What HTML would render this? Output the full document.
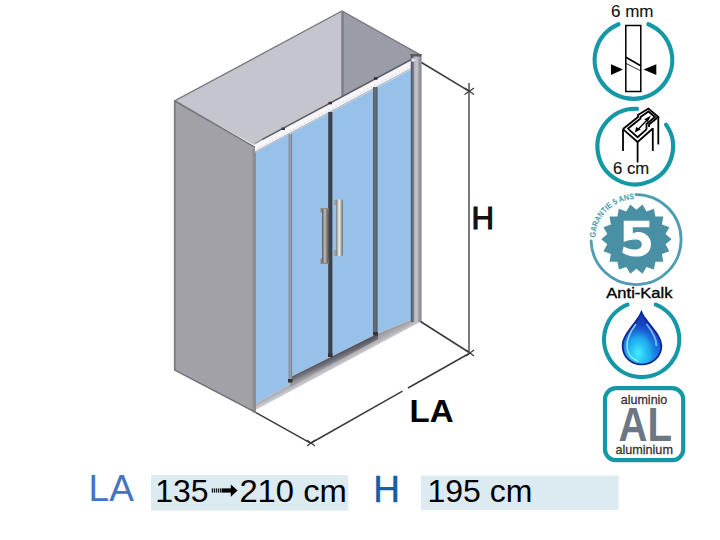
<!DOCTYPE html>
<html><head><meta charset="utf-8"><style>
html,body{margin:0;padding:0;background:#fff;width:720px;height:540px;overflow:hidden}
svg{display:block}
text{font-family:"Liberation Sans",sans-serif}
</style></head><body>
<svg width="720" height="540" viewBox="0 0 720 540">
<defs>
<linearGradient id="rf" x1="0" x2="1" y1="0" y2="0">
<stop offset="0" stop-color="#4e5464"/><stop offset="0.22" stop-color="#6c707c"/><stop offset="0.35" stop-color="#b8b8c0"/><stop offset="0.6" stop-color="#c4c4cc"/><stop offset="0.75" stop-color="#9a9aa4"/><stop offset="1" stop-color="#86868f"/>
</linearGradient>
<linearGradient id="band" gradientUnits="userSpaceOnUse" x1="300" y1="377" x2="304.2" y2="385">
<stop offset="0" stop-color="#9a9aa2"/><stop offset="0.5" stop-color="#b4b4ba"/><stop offset="1" stop-color="#d6d6da"/>
</linearGradient>
<linearGradient id="track" gradientUnits="userSpaceOnUse" x1="330" y1="357" x2="333.3" y2="364">
<stop offset="0" stop-color="#505258"/><stop offset="0.6" stop-color="#74747c"/><stop offset="1" stop-color="#9a9aa0"/>
</linearGradient>
<linearGradient id="dropg" x1="0" x2="0" y1="0" y2="1">
<stop offset="0" stop-color="#1238b0"/><stop offset="0.45" stop-color="#1a50d0"/><stop offset="1" stop-color="#1c80e8"/>
</linearGradient>
<radialGradient id="dropc" cx="0.4" cy="0.8" r="0.58">
<stop offset="0" stop-color="#40f0ff" stop-opacity="1"/><stop offset="0.55" stop-color="#20c0f4" stop-opacity="0.75"/><stop offset="1" stop-color="#1a80e0" stop-opacity="0"/>
</radialGradient>
<linearGradient id="h1" x1="0" x2="1"><stop offset="0" stop-color="#5a5650"/><stop offset="0.45" stop-color="#c0bcb4"/><stop offset="1" stop-color="#5e5a54"/></linearGradient>
<linearGradient id="h2" x1="0" x2="1"><stop offset="0" stop-color="#7a7874"/><stop offset="0.45" stop-color="#f2f2f0"/><stop offset="1" stop-color="#6e6c68"/></linearGradient>
<path id="garc" d="M595.26,237.6 A40.5,40.5 0 0 1 634.3,199.2" fill="none"/>
</defs>

<!-- ===== shower enclosure ===== -->
<!-- left outer face -->
<polygon points="174.3,101 256,149 256,412.6 174.3,369.8" fill="#a2a1a7"/>
<rect x="174" y="101" width="2" height="269" fill="#8e8c95"/>
<rect x="252.5" y="149" width="3.5" height="263.5" fill="#8e8c95"/>
<!-- top face -->
<polygon points="175,101 342,11 342,102 256,146" fill="#c5c5cd"/>
<!-- right inner wall -->
<polygon points="342,11 421,54.5 421,59 342,102" fill="#9a9ca6"/>
<line x1="342.5" y1="11" x2="342.5" y2="102" stroke="#7c7c86" stroke-width="2.4"/>
<!-- edges -->
<polyline points="174.5,370 174.5,101 342,11 420.5,55" fill="none" stroke="#77777f" stroke-width="1.3"/>
<line x1="175" y1="101" x2="256" y2="148" stroke="#74747e" stroke-width="1.7"/>
<line x1="174.3" y1="369.8" x2="256" y2="412.6" stroke="#707078" stroke-width="1.4"/>

<!-- glass -->
<polygon points="256,151 413,66 413,319 378,333.5 290,377.5 290,384.5 256,403.5" fill="#98c1e9"/>
<!-- top rail -->
<polygon points="255,143 416,56.5 416,67 255,152.5" fill="#f6f6f8"/>
<line x1="262" y1="139.7" x2="416" y2="57" stroke="#5a5a62" stroke-width="1.5"/>
<line x1="255" y1="143.5" x2="262" y2="139.7" stroke="#9a9aa2" stroke-width="1.5"/>
<line x1="255" y1="152" x2="413" y2="67.5" stroke="#b4b8c4" stroke-width="1.2"/>
<line x1="258" y1="148.5" x2="412" y2="65" stroke="#e0e0e6" stroke-width="1.2" stroke-dasharray="2 2"/>

<rect x="281.5" y="127.5" width="3.5" height="2.5" fill="#3a3a42"/>
<rect x="328.5" y="101.8" width="3.5" height="2.5" fill="#2e2e36"/>
<rect x="374" y="77.2" width="3.5" height="2.5" fill="#2e2e36"/>
<!-- bottom band -->
<polygon points="256,403.5 290,384.5 290,377.5 378,333.5 413,319 421,321.5 256,409.8" fill="url(#band)"/>
<polygon points="290,377.5 378,333.5 378,339.2 290,387" fill="url(#track)"/>

<!-- vertical profiles -->
<rect x="288.6" y="134" width="3.6" height="248" fill="#7f8896"/>
<rect x="289.6" y="134" width="1.2" height="248" fill="#9aa4b2"/>
<rect x="328.2" y="112" width="4.2" height="244" fill="#3c414a"/>
<rect x="373" y="87" width="4.6" height="248" fill="#595e68"/>
<rect x="374.2" y="87" width="1.4" height="248" fill="#6c727c"/>
<rect x="410.8" y="54" width="10.8" height="268" fill="url(#rf)"/>
<rect x="288" y="379" width="4.5" height="3.5" fill="#34343a"/>
<rect x="328" y="353.5" width="4.5" height="3.5" fill="#34343a"/>
<rect x="373" y="332" width="5" height="3.5" fill="#34343a"/>
<rect x="410.5" y="54" width="11" height="2.5" fill="#5a5a64"/>
<rect x="411.5" y="58.5" width="3" height="3" fill="#f0f0f2"/>

<!-- handles -->
<rect x="320.5" y="208" width="8" height="4.5" fill="#8c8882"/>
<rect x="320.5" y="258.5" width="8" height="5.5" fill="#8c8882"/>
<rect x="322" y="209" width="6.2" height="54" rx="1" fill="url(#h1)"/>
<rect x="334" y="200" width="4" height="5" fill="#a09e98"/>
<rect x="334" y="250" width="4" height="6" fill="#a09e98"/>
<rect x="336.2" y="199.5" width="6.6" height="56.5" rx="1" fill="url(#h2)"/>

<!-- dimension lines -->
<g stroke="#3a3a3a" stroke-width="1.5" fill="none">
<line x1="256" y1="412.6" x2="311" y2="443.3"/>
<line x1="311" y1="443" x2="402.5" y2="391.2"/>
<line x1="408" y1="388" x2="470" y2="353"/>
<line x1="420.5" y1="321.5" x2="470" y2="353"/>
<line x1="421.5" y1="62.5" x2="469" y2="91.2"/>
</g>
<line x1="469" y1="83" x2="469" y2="354" stroke="#7a7a7a" stroke-width="2"/>
<g stroke="#3a3a3a" stroke-width="1.2">
<line x1="465" y1="88" x2="474" y2="94.5"/><line x1="464.5" y1="94.5" x2="474" y2="88"/>
<line x1="466" y1="350" x2="474" y2="356"/><line x1="466" y1="356" x2="474" y2="350"/>
<line x1="307" y1="440" x2="315" y2="446"/><line x1="307" y1="446" x2="315" y2="440"/>
</g>
<text x="0" y="0" font-size="31.2" fill="#111" stroke="#111" stroke-width="1.1" transform="translate(471.6 228.5) scale(1.0 1)">H</text>
<text x="0" y="0" font-size="31.5" font-weight="bold" fill="#000" transform="translate(409.5 421.6) scale(1.05 1)">LA</text>

<!-- ===== bottom row ===== -->
<rect x="151" y="475" width="197.4" height="35.5" fill="#dceaf2"/>
<rect x="421" y="475.5" width="197.7" height="34.5" fill="#dceaf2"/>
<text x="88.6" y="501" font-size="37" fill="#4474c2">LA</text>
<text x="373.2" y="501.9" font-size="37" fill="#1b5ca8" stroke="#1b5ca8" stroke-width="0.4">H</text>
<text x="155.2" y="501.9" font-size="32" fill="#000">135</text>
<text x="239.4" y="501.9" font-size="32" fill="#000" textLength="107.5" lengthAdjust="spacingAndGlyphs">210 cm</text>
<text x="427.5" y="501.9" font-size="32" fill="#000">195 cm</text>
<!-- arrow -->
<g fill="#000">
<rect x="211.8" y="488.4" width="1.1" height="4.2"/><rect x="213.8" y="488.4" width="1.1" height="4.2"/><rect x="215.8" y="488.4" width="1.1" height="4.2"/><rect x="217.8" y="488.4" width="1.1" height="4.2"/><rect x="219.8" y="488.4" width="1.1" height="4.2"/>
<rect x="221.5" y="488.4" width="10.5" height="4.2"/>
<polygon points="230.8,484.5 237.6,490.5 230.8,496.7"/>
</g>

<!-- ===== icons ===== -->
<g fill="none" stroke="#1598a6" stroke-width="4.2" stroke-linecap="round">
<path d="M618.5,24.2 A38.8,38.8 0 1 0 648.4,24.2"/>
<path d="M637,108.8 A37.8,37.8 0 1 0 666,124.6"/>
<path d="M627.5,304.6 A37.6,37.6 0 1 0 655.8,304.6"/>
<rect x="605" y="388.2" width="78.2" height="72" rx="11"/>
</g>

<!-- icon1 contents -->
<text x="0" y="0" font-size="16.2" fill="#111" stroke="#111" stroke-width="0.1" textLength="42.5" lengthAdjust="spacingAndGlyphs" transform="translate(611 16.9)">6 mm</text>
<rect x="625.8" y="25.5" width="15" height="66" fill="#fff" stroke="#000" stroke-width="1.5"/>
<line x1="626" y1="57.3" x2="641" y2="66" stroke="#000" stroke-width="1.6"/>
<line x1="626" y1="63.4" x2="641" y2="71" stroke="#000" stroke-width="0.8"/>
<polygon points="611,64.3 623,69.6 611,74.9" fill="#000"/>
<polygon points="656.3,64.3 643.5,69.6 656.3,74.9" fill="#000"/>

<!-- icon2 contents -->
<g fill="none" stroke="#000" stroke-width="1.8">
<line x1="623" y1="129" x2="623" y2="151"/>
<line x1="637.6" y1="141" x2="637.6" y2="162.5"/>
<line x1="652.8" y1="128" x2="652.8" y2="151"/>
<line x1="658.3" y1="117" x2="658.3" y2="144.4"/>
<polyline points="623.2,129.4 637.6,142 652.8,128.5"/>
<polyline points="623,129 638,117 638,115 648.5,108.5 658.3,117 649,124.5 649,127"/>
<polyline points="628.2,128.8 637.6,137.2 646.5,129.4"/>
<polyline points="627.5,129 640.5,118.5 640.5,117 648.5,111.5 655,117 646.5,124 646.5,129.6"/>
</g>
<line x1="637" y1="130.5" x2="649" y2="118" stroke="#000" stroke-width="1.3"/>
<polygon points="634.8,132.6 636.2,127 640.8,129.6" fill="#000"/>
<polygon points="651,115.6 644.4,119.2 647.6,122" fill="#000"/>
<text x="0" y="0" font-size="15.7" fill="#111" stroke="#111" stroke-width="0.15" textLength="36.2" lengthAdjust="spacingAndGlyphs" transform="translate(613 173.7)">6 cm</text>

<!-- icon3 warranty -->
<path d="M636,194.6 A45,45 0 1 1 591.1,241" fill="none" stroke="#4e9db0" stroke-width="2.8" stroke-linecap="round"/>
<polygon fill="#4a90a5" points="642.5,204.6 646.5,211.5 653.9,208.8 655.4,216.6 663.3,216.6 661.9,224.4 669.4,227.2 665.5,234.1 671.5,239.2 665.5,244.3 669.4,251.2 661.9,253.9 663.3,261.8 655.4,261.8 653.9,269.6 646.5,266.9 642.5,273.8 636.4,268.7 630.3,273.8 626.3,266.9 618.9,269.6 617.4,261.8 609.5,261.8 610.9,253.9 603.4,251.2 607.3,244.3 601.3,239.2 607.3,234.1 603.4,227.2 610.9,224.5 609.5,216.6 617.4,216.6 618.8,208.8 626.3,211.5 630.3,204.6 636.4,209.7"/>
<path d="M623.7,220.7 L649.4,220.7 L649.4,227.2 L632.8,227.2 L632.8,233.5 C636,231.8 640,231.6 644,233.2 C648.5,235.3 651,239.5 651,244 C651,251.5 645.5,256.6 637,256.6 C630.5,256.6 625.5,255 622.2,252.5 L623.7,246.5 C627,248.5 631,249.5 634.5,249.5 C639,249.5 641.8,247.5 641.8,244.5 C641.8,241.5 639.5,239.5 635.5,239.5 C631,239.5 626.5,240.5 623.7,242 Z" fill="#fff"/>
<text font-size="8.2" fill="#4a98ac" font-weight="bold"><textPath href="#garc" textLength="60" lengthAdjust="spacingAndGlyphs">GARANTIE 5 ANS</textPath></text>
<text x="0" y="0" font-size="15" fill="#000" stroke="#000" stroke-width="0.35" textLength="66.2" lengthAdjust="spacingAndGlyphs" transform="translate(606.3 297.8)">Anti-Kalk</text>

<!-- icon4 drop -->
<path d="M641.4,309.8 C645,321 662.2,333 662.2,346 C662.2,357.5 652.5,365.3 641.8,365.3 C631,365.3 621.8,357.5 621.8,346 C621.8,333 638,321 641.4,309.8 Z" fill="#0c2890"/>
<path d="M641.4,313 C645,323.5 660.4,334.5 660.4,346 C660.4,356.5 651.5,363.5 641.8,363.5 C632,363.5 623.6,356.5 623.6,346 C623.6,334.5 638,323.5 641.4,313 Z" fill="url(#dropg)"/>
<path d="M641.4,313 C645,323.5 660.4,334.5 660.4,346 C660.4,356.5 651.5,363.5 641.8,363.5 C632,363.5 623.6,356.5 623.6,346 C623.6,334.5 638,323.5 641.4,313 Z" fill="url(#dropc)"/>
<path d="M636,324 C630,332 626.5,340 627,347 C627.5,354 632,359 638,361" fill="none" stroke="#b8f4ff" stroke-width="1.6" opacity="0.75"/>
<path d="M646.5,324 C652,331 656.5,338 656.5,346" fill="none" stroke="#8cd4ff" stroke-width="2" opacity="0.75"/>
<!-- icon5 aluminium -->
<text x="0" y="0" font-size="13.5" fill="#333" stroke="#333" stroke-width="0.3" textLength="46.5" lengthAdjust="spacingAndGlyphs" transform="translate(620.8 404)">aluminio</text>
<text x="0" y="0" font-size="47.5" font-weight="bold" fill="#6b7883" textLength="53.5" lengthAdjust="spacingAndGlyphs" transform="translate(618.4 441)">AL</text>
<text x="0" y="0" font-size="13.5" fill="#333" stroke="#333" stroke-width="0.3" textLength="57.5" lengthAdjust="spacingAndGlyphs" transform="translate(615.4 453.9)">aluminium</text>
</svg>
</body></html>
